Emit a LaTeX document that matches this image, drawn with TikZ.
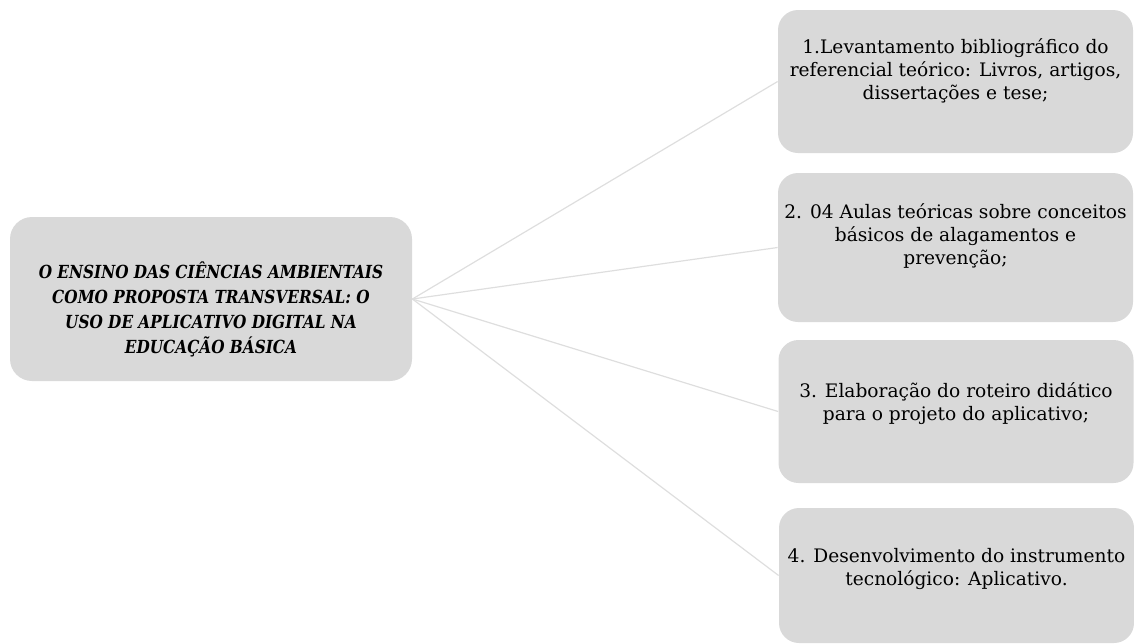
\documentclass[tikz,border=0pt]{standalone}
\usepackage{fontspec}
\setmainfont{DejaVu Serif}
\newfontfamily\titlefont{DejaVu Serif}[FakeStretch=0.85]
\usepackage{xcolor}
\usepackage{tikz}
\usetikzlibrary{positioning}
\definecolor{boxgray}{HTML}{D9D9D9}
\definecolor{linkgray}{HTML}{DEDEDE}
\tikzset{
    box color/.style={fill=boxgray},
    topic box/.style={box color,rounded corners=11pt,minimum width=201pt,minimum height=82pt,inner sep=0pt},
    stage box/.style={box color,rounded corners=10pt,minimum width=177.5pt,minimum height=#1,inner sep=0pt},
    stage box/.default=71.5pt,
    topic text/.style={align=center,font=\titlefont\bfseries\itshape\fontsize{9}{12.5}\selectfont},
    stage text/.style={align=center,font=\fontsize{9.3}{11.5}\selectfont},
    link/.style={draw=linkgray,line width=0.6pt},
}

\begin{document}
\begin{tikzpicture}[x=0.5pt,y=-0.5pt]
        \useasboundingbox (0,0) rectangle (1134,643);

        % boxes
        \node[topic box] (topic) at (211,299) {};
        \node[stage box] (s1) at (955.5,81.5) {};
        \node[stage box=74.5pt] (s2) at (955.5,247.5) {};
        \node[stage box] (s3) at (956,411.5) {};
        \node[stage box=67.5pt] (s4) at (956.5,575.5) {};

        % connectors
        \foreach \s in {s1,s2,s3,s4}
            \draw[link] (topic.east) -- (\s.west);

        % texts
        \node[topic text] (topic text) at ([yshift=-5pt]topic.center)
            {O ENSINO DAS CIÊNCIAS AMBIENTAIS\\COMO PROPOSTA TRANSVERSAL: O\\USO DE APLICATIVO DIGITAL NA\\EDUCAÇÃO BÁSICA};
        \node[stage text] (s1 text) at ([yshift=5.5pt]s1.center)
            {1.Levantamento bibliográfico do\\referencial teórico: Livros, artigos,\\dissertações e tese;};
        \node[stage text] (s2 text) at ([yshift=6pt]s2.center)
            {2. 04 Aulas teóricas sobre conceitos\\básicos de alagamentos e\\prevenção;};
        \node[stage text] (s3 text) at ([yshift=4pt]s3.center)
            {3. Elaboração do roteiro didático\\para o projeto do aplicativo;};
        \node[stage text] (s4 text) at ([yshift=3.5pt]s4.center)
            {4. Desenvolvimento do instrumento\\tecnológico: Aplicativo.};
    \end{tikzpicture}
\end{document}
